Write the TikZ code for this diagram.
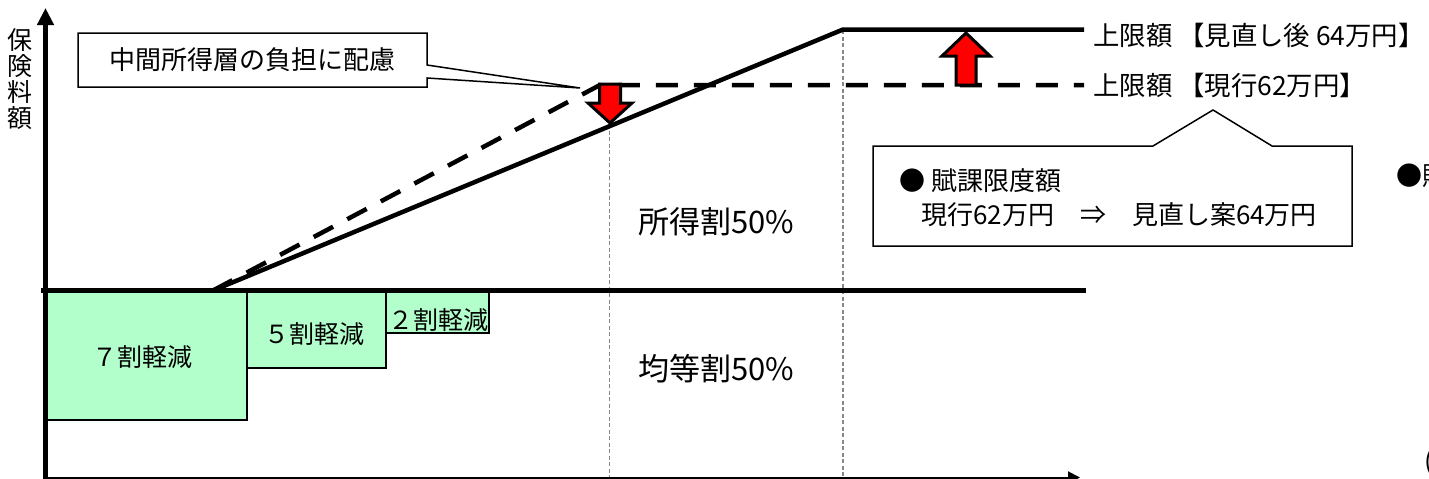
\documentclass[tikz,border=0pt]{standalone}
\usepackage{fontspec}
\newfontfamily\jp{Noto Sans CJK JP}
\usetikzlibrary{arrows.meta}
\definecolor{lightgreen}{HTML}{B3FFCB}
\definecolor{guidegray}{HTML}{888888}
\tikzset{
  thickline/.style={line width=4.5pt},
  dashline/.style={line width=4.5pt, dash pattern=on 22pt off 16pt},
  guide/.style={guidegray, line width=1.2pt, dash pattern=on 4pt off 2.5pt},
  greenbox/.style={fill=lightgreen, draw=black, line width=1.5pt},
  redarrow/.style={fill=red, draw=black, line width=3pt, line join=miter},
  callout/.style={draw=black, line width=1.5pt, fill=white, line join=miter},
  lbl/.style={font=\jp\fontsize{26}{28}\selectfont, inner sep=0pt},
  leglbl/.style={font=\jp\fontsize{26.4}{29}\selectfont, inner sep=0pt},
  boxlbl/.style={font=\jp\fontsize{25}{27}\selectfont, inner sep=0pt},
  biglbl/.style={font=\jp\fontsize{31}{33}\selectfont, inner sep=0pt},
}
\begin{document}
\begin{tikzpicture}[x=1pt,y=-1pt]
\useasboundingbox (0,0) rectangle (1429,479);
% key points
\coordinate (origin) at (45.5,479);
\coordinate (ytop) at (45.5,8);
\coordinate (xstart) at (44,477.5);
\coordinate (xend) at (1080,477.5);
\coordinate (baseL) at (41,290.5);
\coordinate (baseR) at (1086,290.5);
\coordinate (kink) at (213,290.5);
\coordinate (newcorner) at (843,29.5);
\coordinate (newend) at (1084,29.5);
\coordinate (oldcorner) at (600,85);
\coordinate (oldend) at (1084,85);
\coordinate (g1top) at (609.5,124);
\coordinate (g1bot) at (609.5,479);
\coordinate (g2top) at (843,30);
\coordinate (g2bot) at (843,479);

% guides
\draw[guide] (g1top) -- (g1bot);
\draw[guide] (g2top) -- (g2bot);

% green reduction boxes
\draw[greenbox] (46,292) rectangle (247,420);
\draw[greenbox] (247,292) rectangle (386,368);
\draw[greenbox] (386,292) rectangle (489,333);
\node[boxlbl] (r7) at (142,357) {７割軽減};
\node[boxlbl] (r5) at (314,334) {５割軽減};
\node[boxlbl] (r2) at (438,320) {２割軽減};

% axes
\draw[line width=2pt, -{Triangle[length=12pt,width=12pt]}] (xstart) -- (xend);
\draw[line width=4.5pt, -{Triangle[length=17pt,width=16pt]}] (origin) -- (ytop);
\draw[thickline] (baseL) -- (baseR);

% premium lines
\draw[dashline] (kink) -- (oldcorner) -- (oldend);
\draw[thickline, line join=miter] (kink) -- (newcorner) -- (newend);

% red arrows
\draw[redarrow] (599.5,84) -- (620.5,84) -- (620.5,103) -- (632,103) -- (610,123) -- (588,103) -- (599.5,103) -- cycle;
\draw[redarrow] (966,33) -- (990,56) -- (976,56) -- (976,85) -- (956,85) -- (956,56) -- (942,56) -- cycle;

% callout 1
\draw[callout] (78,33) -- (427,33) -- (427,65) -- (580,88) -- (427,78) -- (427,87) -- (78,87) -- cycle;
\node[lbl] (c1) at (252.5,60) {中間所得層の負担に配慮};

% callout 2
\draw[callout] (873,146) -- (1153,146) -- (1213,110) -- (1272,146) -- (1352,146) -- (1352,246) -- (873,246) -- cycle;
\node[lbl, anchor=west] (c2a) at (899,181) {● 賦課限度額};
\node[lbl, anchor=west] (c2b) at (921,215) {現行62万円\hspace{1em}⇒\hspace{1em}見直し案64万円};

% legend
\node[leglbl, anchor=west] (leg1) at (1093,35) {上限額 【見直し後 64万円】};
\node[leglbl, anchor=west] (leg2) at (1093,85) {上限額 【現行62万円】};

% region labels
\node[biglbl] (inc) at (716,222) {所得割50\%};
\node[biglbl] (eq) at (716,369) {均等割50\%};

% y-axis label
\node[font=\jp\fontsize{25}{26}\selectfont, inner sep=0pt, align=center] (ylab) at (20,79) {保\\険\\料\\額};

% texts cut at the right edge, as in the reference
\node[lbl, anchor=west] (cut1) at (1396,176) {●賦};
\node[lbl, anchor=west] (cut2) at (1424,462) {(};
\end{tikzpicture}
\end{document}
